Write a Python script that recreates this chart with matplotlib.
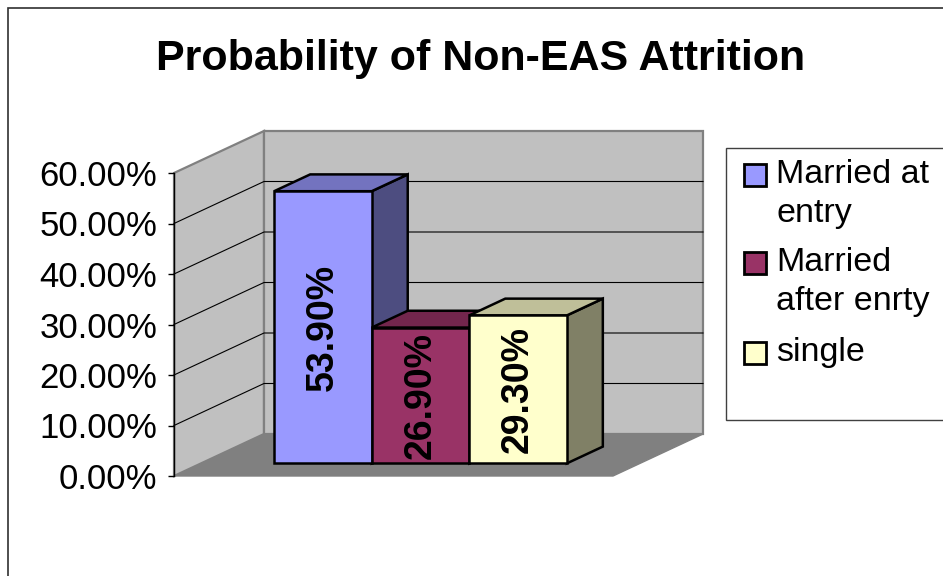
import matplotlib
matplotlib.use("Agg")
import matplotlib.pyplot as plt
from matplotlib.patches import Polygon, Rectangle
from matplotlib.ticker import FuncFormatter

# data
series = ["Married at\nentry", "Married\nafter enrty", "single"]
values = [53.9, 26.9, 29.3]
bar_labels = ["53.90%", "26.90%", "29.30%"]
yticks = [0, 10, 20, 30, 40, 50, 60]

front_c = ["#9999ff", "#993366", "#ffffcc"]
top_c = ["#7373bf", "#73264d", "#bfbf99"]
side_c = ["#4d4d80", "#4d1a33", "#808066"]

plt.rcParams["font.family"] = ["Liberation Sans", "DejaVu Sans"]

W, H = 943, 576
fig = plt.figure(figsize=(W / 100, H / 100), dpi=100)

def fx(px):
    return px / W

def fy(py):
    return 1 - py / H

# front plane of the 3d box: x 174..613 px, 0% at 476 px, 60% at 173 px
ax = fig.add_axes([fx(174), fy(476), (613 - 174) / W, (476 - 173) / H])
XMAX = 4.5
ax.set_xlim(0, XMAX)
ax.set_ylim(0, 60)
DX = 90 / ((613 - 174) / XMAX)   # depth offset in x units
DY = 42 / (303 / 60)             # depth offset in y units

def P(x, y, d):
    return (x + d * DX, y + d * DY)

def face(pts, fc, ec, lw, z):
    ax.add_patch(Polygon([P(*p) for p in pts], closed=True, facecolor=fc,
                         edgecolor=ec, linewidth=lw, zorder=z, clip_on=False,
                         joinstyle="miter"))

# walls and floor
face([(0, 0, 0), (XMAX, 0, 0), (XMAX, 0, 1), (0, 0, 1)], "#808080", "#808080", 1, 1)
face([(0, 0, 0), (0, 60, 0), (0, 60, 1), (0, 0, 1)], "#c0c0c0", "#808080", 1.6, 1)
face([(0, 0, 1), (XMAX, 0, 1), (XMAX, 60, 1), (0, 60, 1)], "#c0c0c0", "#808080", 1.6, 1)
for t in yticks[1:-1]:
    pts = [P(0, t, 0), P(0, t, 1), P(XMAX, t, 1)]
    ax.plot([p[0] for p in pts], [p[1] for p in pts], color="black", lw=0.8,
            zorder=2, clip_on=False)

# bars
d0, d1 = 0.3, 0.7
for i, v in enumerate(values):
    x0, x1 = 0.75 + i, 1.75 + i
    face([(x1, 0, d0), (x1, v, d0), (x1, v, d1), (x1, 0, d1)], side_c[i], "black", 1.8, 3 + i)
    face([(x0, v, d0), (x1, v, d0), (x1, v, d1), (x0, v, d1)], top_c[i], "black", 1.8, 3 + i)
    face([(x0, 0, d0), (x1, 0, d0), (x1, v, d0), (x0, v, d0)], front_c[i], "black", 1.8, 3 + i)
    cx, cy = P((x0 + x1) / 2, v / 2, d0)
    ax.text(cx, cy, bar_labels[i], rotation=90, ha="center", va="center",
            fontsize=27, fontweight="bold", color="black", zorder=10)

# axis
for s in ["top", "right", "bottom"]:
    ax.spines[s].set_visible(False)
ax.spines["left"].set_linewidth(1)
ax.spines["left"].set_zorder(6)
ax.set_xticks([])
ax.set_yticks(yticks)
ax.yaxis.set_major_formatter(FuncFormatter(lambda v, p: f"{v:.2f}%"))
ax.tick_params(axis="y", direction="out", length=4, width=1, pad=8, labelsize=25)
ax.patch.set_visible(False)

# title
fig.text(fx(481), fy(59), "Probability of Non-EAS Attrition", ha="center",
         va="center", fontsize=31, fontweight="bold")

# legend
fig.patches.append(Rectangle((fx(726), fy(420)), fx(260), (420 - 148) / H,
                             transform=fig.transFigure, facecolor="white",
                             edgecolor="#404040", lw=1))
leg_y = [175, 263, 353]
for i, lab in enumerate(series):
    y = leg_y[i]
    fig.patches.append(Rectangle((fx(744), fy(y + 11)), 22 / W, 22 / H,
                                 transform=fig.transFigure, facecolor=front_c[i],
                                 edgecolor="black", lw=2))
    fig.text(fx(776), fy(y - 16), lab, ha="left", va="top", fontsize=24.5,
             linespacing=1.32, transform=fig.transFigure)

# outer chart border
fig.patches.append(Rectangle((fx(8), fy(600)), fx(960), 592 / H,
                             transform=fig.transFigure, facecolor="none",
                             edgecolor="#303030", lw=1.2))

fig.savefig("out.png", dpi=100)
